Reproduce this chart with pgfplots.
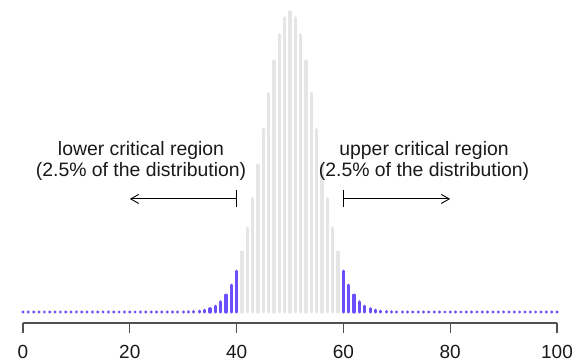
\documentclass[border=0pt]{standalone}
\usepackage{fontspec}
\setmainfont{Liberation Sans}
\usepackage{pgfplots}
\usepackage{pgfplotstable}
\pgfplotsset{compat=1.18}
\usetikzlibrary{arrows.meta}
\definecolor{crit}{RGB}{108,78,250}
\definecolor{bulk}{RGB}{229,229,229}
\definecolor{axgray}{RGB}{80,80,80}

\pgfplotstableread{
k p
0 0
1 0
2 0
3 0
4 0
5 0
6 0
7 0
8 0
9 0
10 0
11 0
12 0
13 0
14 0
15 0
16 0
17 0
18 0
19 0
20 0
21 0
22 0
23 0
24 0
25 0
26 0
27 0
28 0.0000039
29 0.0000098
30 0.0000232
31 0.0000523
32 0.000113
33 0.000232
34 0.000458
35 0.000864
36 0.00156
37 0.00270
38 0.00447
39 0.00711
40 0.01084
}\lowertab

\pgfplotstableread{
k p
41 0.01587
42 0.02229
43 0.03007
44 0.03895
45 0.04847
46 0.05796
47 0.06659
48 0.07353
49 0.07803
50 0.07959
51 0.07803
52 0.07353
53 0.06659
54 0.05796
55 0.04847
56 0.03895
57 0.03007
58 0.02229
59 0.01587
}\middletab

\pgfplotstableread{
k p
60 0.01084
61 0.00711
62 0.00447
63 0.00270
64 0.00156
65 0.000864
66 0.000458
67 0.000232
68 0.000113
69 0.0000523
70 0.0000232
71 0.0000098
72 0.0000039
73 0
74 0
75 0
76 0
77 0
78 0
79 0
80 0
81 0
82 0
83 0
84 0
85 0
86 0
87 0
88 0
89 0
90 0
91 0
92 0
93 0
94 0
95 0
96 0
97 0
98 0
99 0
100 0
}\uppertab

\begin{document}
\begin{tikzpicture}[x=1pt,y=1pt]
\useasboundingbox (0,0) rectangle (587,362);
\begin{axis}[
  at={(23pt,39pt)}, anchor=south west,
  scale only axis, width=534pt, height=311pt,
  xmin=0, xmax=100, ymin=-0.00292, ymax=0.0796,
  axis x line*=bottom, axis y line=none,
  every outer x axis line/.append style={-},
  x axis line style={-, axgray, line width=1.3pt},
  clip=false,
  xtick={0,20,...,100},
  tick align=outside, major tick length=10pt,
  tick style={axgray, line width=1.3pt},
  xticklabel style={font=\fontsize{19}{20}\selectfont, text=black!90, yshift=-9pt},
  /pgf/number format/assume math mode=true,
]
\addplot[ycomb, color=bulk, line width=3.4pt, line cap=round] table[x=k,y=p]{\middletab};
\addplot[ycomb, color=crit, line width=3.2pt, line cap=round] table[x=k,y=p]{\lowertab};
\addplot[ycomb, color=crit, line width=3.2pt, line cap=round] table[x=k,y=p]{\uppertab};

\node[align=center, font=\fontsize{19.4}{21}\selectfont, text=black!90] at (axis cs:22.1,0.0402) {lower critical region\\(2.5\% of the distribution)};
\node[align=center, font=\fontsize{19.4}{21}\selectfont, text=black!90] at (axis cs:75.1,0.0402) {upper critical region\\(2.5\% of the distribution)};
\draw[{Bar[width=17pt]}-{Straight Barb[length=8pt,width=9pt]}, line width=0.9pt] (axis cs:40,0.0300) -- (axis cs:20,0.0300);
\draw[{Bar[width=17pt]}-{Straight Barb[length=8pt,width=9pt]}, line width=0.9pt] (axis cs:60,0.0300) -- (axis cs:80,0.0300);
\end{axis}
\end{tikzpicture}
\end{document}
